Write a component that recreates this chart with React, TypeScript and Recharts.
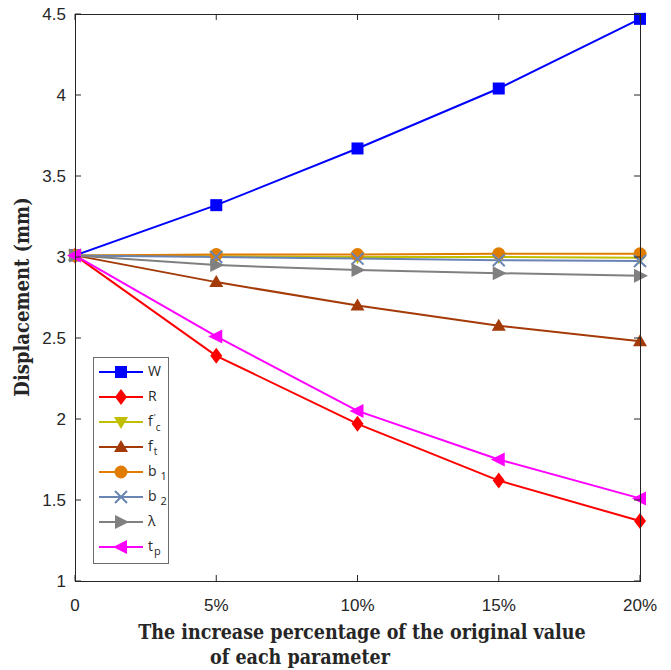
import { LineChart, Line, XAxis, YAxis, Legend } from "recharts";

// Increase of each parameter over its original value (%)
const PCT = [0, 5, 10, 15, 20];

// Displacement (mm) for each parameter sweep
const W = [3.01, 3.32, 3.67, 4.04, 4.47];
const R = [3.01, 2.39, 1.97, 1.62, 1.37];
const FC = [3.01, 3.005, 3.0, 3.0, 2.995];
const FT = [3.01, 2.845, 2.7, 2.575, 2.48];
const B1 = [3.01, 3.015, 3.015, 3.02, 3.02];
const B2 = [3.01, 3.0, 2.99, 2.98, 2.975];
const LAMBDA = [3.01, 2.95, 2.92, 2.9, 2.885];
const TP = [3.01, 2.51, 2.05, 1.75, 1.51];

const X_TICKS = [0, 5, 10, 15, 20];
const Y_TICKS = [1, 1.5, 2, 2.5, 3, 3.5, 4, 4.5];

// chart layout
const CHART_W = 671;
const CHART_H = 670;
const MARGIN = { top: 14, right: 31, bottom: 0, left: 0 };
const Y_AXIS_W = 75;
const X_AXIS_H = 89;
const PLOT_LEFT = MARGIN.left + Y_AXIS_W;
const PLOT_RIGHT = CHART_W - MARGIN.right;
const PLOT_TOP = MARGIN.top;
const PLOT_BOTTOM = CHART_H - MARGIN.bottom - X_AXIS_H;
const TICK_LEN = 6;

const AXIS = "#262626";
const TICK_FONT = "'Liberation Sans', Arial, sans-serif";
const TITLE_FONT = "'DejaVu Serif', serif";

type Shape = "square" | "diamond" | "down" | "up" | "circle" | "x" | "right" | "left";

interface Series {
  key: string;
  values: number[];
  color: string;
  shape: Shape;
  label: React.ReactNode;
}

const SERIES: Series[] = [
  { key: "W", values: W, color: "#0000ff", shape: "square", label: "W" },
  { key: "R", values: R, color: "#ff0000", shape: "diamond", label: "R" },
  {
    key: "fc",
    values: FC,
    color: "#bfbf00",
    shape: "down",
    label: (
      <>
        f
        <tspan dx={1} dy={-5} fontSize={9}>'</tspan>
        <tspan dx={0} dy={10} fontSize={10}>c</tspan>
      </>
    ),
  },
  {
    key: "ft",
    values: FT,
    color: "#a33a08",
    shape: "up",
    label: (
      <>
        f<tspan dx={1} dy={4} fontSize={10}>t</tspan>
      </>
    ),
  },
  {
    key: "b1",
    values: B1,
    color: "#e07d00",
    shape: "circle",
    label: (
      <>
        b<tspan dx={4} dy={4} fontSize={11}>1</tspan>
      </>
    ),
  },
  {
    key: "b2",
    values: B2,
    color: "#6a85b3",
    shape: "x",
    label: (
      <>
        b<tspan dx={4} dy={4} fontSize={11}>2</tspan>
      </>
    ),
  },
  { key: "lambda", values: LAMBDA, color: "#808080", shape: "right", label: "λ" },
  {
    key: "tp",
    values: TP,
    color: "#ff00ff",
    shape: "left",
    label: (
      <>
        t<tspan dx={1} dy={4} fontSize={11}>p</tspan>
      </>
    ),
  },
];

const data = PCT.map((x, i) => {
  const row: Record<string, number> = { x };
  SERIES.forEach((s) => {
    row[s.key] = s.values[i];
  });
  return row;
});

function Marker({ shape, cx, cy, color }: { shape: Shape; cx: number; cy: number; color: string }) {
  switch (shape) {
    case "square":
      return <rect x={cx - 6} y={cy - 6} width={12} height={12} fill={color} />;
    case "diamond":
      return <polygon points={`${cx},${cy - 8} ${cx + 6},${cy} ${cx},${cy + 8} ${cx - 6},${cy}`} fill={color} />;
    case "down":
      return <polygon points={`${cx - 7},${cy - 5} ${cx + 7},${cy - 5} ${cx},${cy + 7}`} fill={color} />;
    case "up":
      return <polygon points={`${cx - 7},${cy + 5} ${cx + 7},${cy + 5} ${cx},${cy - 7}`} fill={color} />;
    case "circle":
      return <circle cx={cx} cy={cy} r={6.5} fill={color} />;
    case "x":
      return (
        <path
          d={`M${cx - 6},${cy - 6}L${cx + 6},${cy + 6}M${cx - 6},${cy + 6}L${cx + 6},${cy - 6}`}
          stroke={color}
          strokeWidth={2}
        />
      );
    case "right":
      return <polygon points={`${cx - 6},${cy - 7} ${cx - 6},${cy + 7} ${cx + 8},${cy}`} fill={color} />;
    case "left":
      return <polygon points={`${cx + 6},${cy - 7} ${cx + 6},${cy + 7} ${cx - 8},${cy}`} fill={color} />;
  }
  return null;
}

// x ticks: label below, inward marks on the bottom and top edges
function BottomTick(props: any) {
  const { x, payload } = props;
  const v = payload.value;
  return (
    <g>
      <path
        d={`M${x},${PLOT_BOTTOM}V${PLOT_BOTTOM - TICK_LEN}M${x},${PLOT_TOP}V${PLOT_TOP + TICK_LEN}`}
        stroke={AXIS}
        strokeWidth={1}
        fill="none"
      />
      <text x={x} y={PLOT_BOTTOM + 30} textAnchor="middle" fontSize={17} fontFamily={TICK_FONT} fill={AXIS}>
        {v === 0 ? "0" : `${v}%`}
      </text>
    </g>
  );
}

// y ticks: label on the left, inward marks on the left and right edges
function LeftTick(props: any) {
  const { y, payload } = props;
  return (
    <g>
      <path
        d={`M${PLOT_LEFT},${y}H${PLOT_LEFT + TICK_LEN}M${PLOT_RIGHT},${y}H${PLOT_RIGHT - TICK_LEN}`}
        stroke={AXIS}
        strokeWidth={1}
        fill="none"
      />
      <text x={PLOT_LEFT - 9} y={y} dy="0.36em" textAnchor="end" fontSize={17} fontFamily={TICK_FONT} fill={AXIS}>
        {String(payload.value)}
      </text>
    </g>
  );
}

function XTitle() {
  return (
    <g fontFamily={TITLE_FONT} fontWeight="bold" fontSize={19.5} fill="#262626" style={{ fontStretch: "condensed" }}>
      <text x={362} y={639} textAnchor="middle">
        The increase percentage of the original value
      </text>
      <text x={300} y={664} textAnchor="middle">
        of each parameter
      </text>
    </g>
  );
}

function YTitle() {
  return (
    <text
      x={22}
      y={297}
      transform="rotate(-90 22 297)"
      dy="0.35em"
      textAnchor="middle"
      fontFamily={TITLE_FONT}
      fontWeight="bold"
      fontSize={20}
      fill="#262626"
      style={{ fontStretch: "condensed" }}
    >
      Displacement (mm)
    </text>
  );
}

function LegendBox() {
  return (
    <div style={{ width: 76, height: 207, boxSizing: "border-box", border: "1px solid #6b6b6b", background: "#fff" }}>
      <svg width={74} height={205} style={{ display: "block" }}>
        {SERIES.map((s, i) => {
          const cy = 14 + i * 25;
          return (
            <g key={s.key}>
              <line x1={5} x2={49} y1={cy} y2={cy} stroke={s.color} strokeWidth={2} />
              <Marker shape={s.shape} cx={27} cy={cy} color={s.color} />
              <text x={54} y={cy} dy="0.3em" fontSize={14} fontFamily="'Open Sans', sans-serif" fill="#262626">
                {s.label}
              </text>
            </g>
          );
        })}
      </svg>
    </div>
  );
}

export default function App() {
  return (
    <div style={{ position: "absolute", left: 0, top: 0, width: CHART_W, height: CHART_H, background: "#fff" }}>
      <LineChart width={CHART_W} height={CHART_H} data={data} margin={MARGIN}>
        <XAxis
          dataKey="x"
          type="number"
          domain={[0, 20]}
          ticks={X_TICKS}
          height={X_AXIS_H}
          tickSize={0}
          tickMargin={0}
          tick={<BottomTick />}
          axisLine={false}
          label={<XTitle />}
        />
        <YAxis
          type="number"
          domain={[1, 4.5]}
          ticks={Y_TICKS}
          width={Y_AXIS_W}
          tickSize={0}
          tickMargin={0}
          tick={<LeftTick />}
          axisLine={false}
          label={<YTitle />}
        />
        {SERIES.map((s) => (
          <Line
            key={s.key}
            dataKey={s.key}
            stroke={s.color}
            strokeWidth={2}
            isAnimationActive={false}
            activeDot={false}
            dot={(p: any) => (
              <Marker key={`${s.key}-${p.index}`} shape={s.shape} cx={p.cx} cy={p.cy} color={s.color} />
            )}
          />
        ))}
        <Legend
          layout="horizontal"
          verticalAlign="middle"
          align="center"
          wrapperStyle={{ left: 93, top: 357, width: 76, height: 207 }}
          content={<LegendBox />}
        />
      </LineChart>
      {/* axes box */}
      <div
        style={{
          position: "absolute",
          left: PLOT_LEFT,
          top: PLOT_TOP,
          width: PLOT_RIGHT - PLOT_LEFT + 1,
          height: PLOT_BOTTOM - PLOT_TOP + 1,
          boxSizing: "border-box",
          border: `1px solid ${AXIS}`,
          pointerEvents: "none",
        }}
      />
    </div>
  );
}
